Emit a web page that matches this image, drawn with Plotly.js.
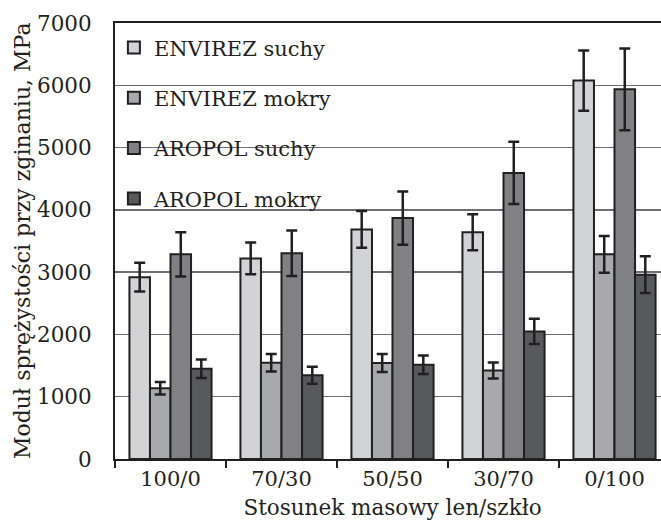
<!DOCTYPE html>
<html>
<head>
<meta charset="utf-8">
<script src="https://cdn.plot.ly/plotly-3.0.1.min.js"></script>
<style>
html,body{margin:0;padding:0;overflow:hidden;background:#fff;}
#chart{width:672px;height:520px;}
</style>
</head>
<body>
<div id="chart"></div>
<script>
const categories = ["100/0", "70/30", "50/50", "30/70", "0/100"];
const seriesNames = ["ENVIREZ suchy", "ENVIREZ mokry", "AROPOL suchy", "AROPOL mokry"];
const envirezSuchy = [2920, 3220, 3685, 3640, 6075];
const envirezSuchyErr = [230, 255, 295, 290, 482];
const envirezMokry = [1137, 1545, 1540, 1421, 3286];
const envirezMokryErr = [100, 140, 145, 130, 295];
const aropolSuchy = [3286, 3302, 3868, 4593, 5935];
const aropolSuchyErr = [355, 365, 428, 500, 655];
const aropolMokry = [1449, 1346, 1513, 2048, 2960];
const aropolMokryErr = [148, 136, 150, 203, 295];
const colors = ["#d2d3d5", "#a8a9ac", "#808184", "#58595b"];
const xTitle = "Stosunek masowy len/szkło";
const yTitle = "Moduł sprężystości przy zginaniu, MPa";

const values = [envirezSuchy, envirezMokry, aropolSuchy, aropolMokry];
const errs = [envirezSuchyErr, envirezMokryErr, aropolSuchyErr, aropolMokryErr];

const serif = "DejaVu Serif, Liberation Serif, serif";
const ink = "#231f20";

const traces = values.map((v, i) => ({
  type: "bar",
  name: seriesNames[i],
  x: categories,
  y: v,
  legendgroup: "g" + i,
  marker: {color: colors[i], line: {color: ink, width: 2}},
  error_y: {type: "data", array: errs[i], visible: true, color: ink, thickness: 2.5, width: 5.5}
}));

const layout = {
  width: 672,
  height: 520,
  margin: {l: 115, r: 2, t: 23, b: 61, pad: 0, autoexpand: false},
  paper_bgcolor: "#fff",
  plot_bgcolor: "#fff",
  barmode: "group",
  bargap: 0.26,
  bargroupgap: 0,
  font: {family: serif, color: ink, size: 21},
  showlegend: true,
  legend: {
    x: -0.002, y: 0.99, xanchor: "left", yanchor: "top",
    bgcolor: "rgba(0,0,0,0)", borderwidth: 0,
    traceorder: "grouped", tracegroupgap: 20,
    font: {family: serif, size: 21, color: ink}
  },
  xaxis: {
    type: "category",
    automargin: true,
    showline: true, linecolor: ink, linewidth: 2, mirror: true,
    ticks: "outside", tickson: "boundaries", ticklen: 7, tickwidth: 1.5, tickcolor: ink,
    showgrid: false,
    tickfont: {family: serif, size: 21, color: ink},
    title: {text: xTitle, font: {family: serif, size: 21.5, color: ink}, standoff: 14}
  },
  yaxis: {
    range: [0, 7000],
    dtick: 1000,
    automargin: false,
    showline: true, linecolor: ink, linewidth: 2,
    ticks: "outside", ticklen: 17, tickcolor: "rgba(0,0,0,0)",
    showgrid: true, gridcolor: "#6d6e71", gridwidth: 1.5,
    zeroline: false,
    tickfont: {family: serif, size: 21.5, color: ink}
  },
  annotations: [{
    text: yTitle, textangle: -90,
    xref: "paper", yref: "paper", x: (22 - 115) / 555, y: 0.5,
    xanchor: "center", yanchor: "middle", showarrow: false,
    font: {family: serif, size: 22, color: ink}
  }]
};

Plotly.newPlot("chart", traces, layout, {displayModeBar: false, staticPlot: true});
</script>
</body>
</html>
